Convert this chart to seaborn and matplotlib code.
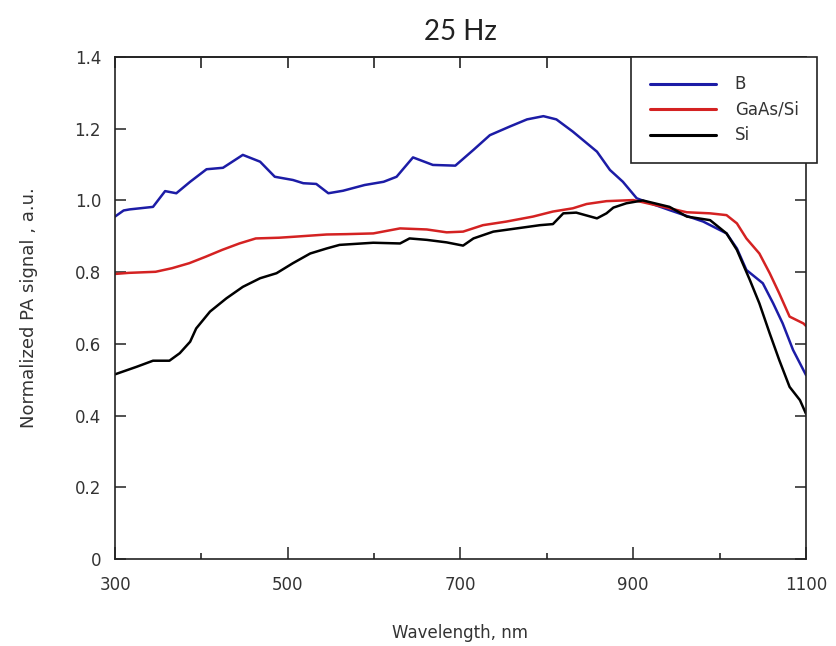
import numpy as np
import pandas as pd
import matplotlib
matplotlib.use("Agg")
import matplotlib.pyplot as plt
from matplotlib.ticker import MultipleLocator, FixedLocator
import seaborn as sns

# ---- data ----
series_names = ["B", "GaAs/Si", "Si"]
series_colors = ["#1c1ca6", "#d42222", "#000000"]

b_wl = [300, 310, 317, 344, 358, 371, 387, 406, 425, 448, 468, 485, 506, 518, 533,
        547, 564, 589, 611, 626, 645, 668, 694, 715, 734, 757, 777, 796, 811,
        830, 842, 858, 873, 888, 904, 915, 942, 981, 1008, 1020, 1031, 1050,
        1062, 1073, 1085, 1100]
b_val = [0.955, 0.972, 0.975, 0.982, 1.026, 1.020, 1.052, 1.087, 1.091, 1.127, 1.108,
         1.066, 1.057, 1.048, 1.046, 1.020, 1.027, 1.043, 1.052, 1.066, 1.120,
         1.099, 1.097, 1.141, 1.182, 1.206, 1.226, 1.235, 1.226, 1.192, 1.168,
         1.136, 1.085, 1.052, 1.006, 0.996, 0.973, 0.941, 0.908, 0.866, 0.806,
         0.769, 0.713, 0.657, 0.583, 0.513]

g_wl = [300, 316, 347, 366, 386, 405, 424, 444, 463, 490, 509, 545, 568, 599,
        630, 661, 684, 703, 726, 753, 784, 807, 830, 846, 869, 900, 942, 962,
        989, 1008, 1020, 1031, 1046, 1058, 1069, 1081, 1097, 1100]
g_val = [0.795, 0.798, 0.801, 0.811, 0.825, 0.843, 0.862, 0.880, 0.894, 0.896,
         0.899, 0.905, 0.906, 0.908, 0.922, 0.919, 0.911, 0.913, 0.931, 0.941,
         0.955, 0.969, 0.978, 0.990, 0.998, 1.001, 0.978, 0.967, 0.964, 0.959,
         0.936, 0.894, 0.852, 0.797, 0.741, 0.676, 0.657, 0.650]

s_wl = [300, 325, 344, 363, 375, 387, 394, 410, 429, 448, 468, 487, 506, 526,
        545, 560, 599, 630, 641, 661, 684, 703, 715, 738, 765, 792, 807, 819,
        834, 858, 869, 877, 892, 911, 942, 962, 989, 1008, 1020, 1035, 1046,
        1058, 1069, 1081, 1093, 1100]
s_val = [0.515, 0.536, 0.553, 0.553, 0.574, 0.606, 0.643, 0.690, 0.727, 0.759,
         0.783, 0.797, 0.825, 0.852, 0.866, 0.876, 0.882, 0.880, 0.894, 0.890,
         0.883, 0.874, 0.894, 0.913, 0.922, 0.931, 0.934, 0.964, 0.966, 0.950,
         0.964, 0.980, 0.992, 1.000, 0.982, 0.955, 0.945, 0.908, 0.862, 0.778,
         0.713, 0.629, 0.555, 0.480, 0.443, 0.405]

x_ticks = [300, 500, 700, 900, 1100]
y_ticks = [0, 0.2, 0.4, 0.6, 0.8, 1.0, 1.2, 1.4]
y_tick_labels = ["0", "0.2", "0.4", "0.6", "0.8", "1.0", "1.2", "1.4"]

title_text = "25 Hz"
x_label = "Wavelength, nm"
y_label = "Normalized PA signal , a.u."

df = pd.concat([
    pd.DataFrame({"wl": b_wl, "val": b_val, "sample": series_names[0]}),
    pd.DataFrame({"wl": g_wl, "val": g_val, "sample": series_names[1]}),
    pd.DataFrame({"wl": s_wl, "val": s_val, "sample": series_names[2]}),
], ignore_index=True)

sns.set_theme(style="ticks")
plt.rcParams["font.family"] = ["DejaVu Sans"]

fig = plt.figure(figsize=(8.37, 6.46), dpi=100)
ax = fig.add_axes([115 / 837, 1 - 559 / 646, (806 - 115) / 837, (559 - 57) / 646])

sns.lineplot(data=df, x="wl", y="val", hue="sample", hue_order=series_names,
             palette=dict(zip(series_names, series_colors)), estimator=None,
             sort=False, linewidth=1.8, ax=ax, legend=True)

ax.set_xlim(300, 1100)
ax.set_ylim(0, 1.4)
ax.xaxis.set_major_locator(FixedLocator(x_ticks))
ax.xaxis.set_minor_locator(MultipleLocator(100))
ax.set_yticks(y_ticks)
ax.set_yticklabels(y_tick_labels)

for sp in ax.spines.values():
    sp.set_visible(True)
    sp.set_linewidth(1.2)
    sp.set_color("#222222")

ax.tick_params(axis="x", which="major", direction="in", length=9, width=1.2,
               bottom=True, top=False, labelsize=12, colors="#333333", pad=12)
ax.tick_params(axis="x", which="minor", direction="in", length=4.5, width=1.2,
               bottom=True, top=False)
ax.tick_params(axis="y", which="major", direction="in", length=8, width=1.2,
               left=True, right=True, labelsize=12, colors="#333333", pad=10)

sec = ax.secondary_xaxis("top")
sec.xaxis.set_major_locator(MultipleLocator(100))
sec.tick_params(direction="in", length=8, width=1.2, labeltop=False, colors="#222222")
sec.spines["top"].set_linewidth(1.2)

ax.set_xlabel(x_label, fontsize=12, color="#333333", labelpad=22)
ax.set_ylabel(y_label, fontsize=13, color="#333333", labelpad=26)
ax.set_title(title_text, fontsize=20, family=["Lato", "DejaVu Sans"],
             color="#222222", pad=12)

handles, labels = ax.get_legend_handles_labels()
ax.get_legend().remove()
leg = fig.legend(handles, labels, loc="upper right",
                 bbox_to_anchor=(817 / 837, 1 - 57 / 646),
                 bbox_transform=fig.transFigure, fontsize=12, frameon=True,
                 fancybox=False, edgecolor="#222222", facecolor="white",
                 framealpha=1.0, handlelength=4.0, handletextpad=1.1,
                 labelspacing=0.45, borderpad=1.1, borderaxespad=0)
leg.set_zorder(20)
leg.get_frame().set_linewidth(1.2)
for line in leg.get_lines():
    line.set_linewidth(2.2)
for t in leg.get_texts():
    t.set_color("#333333")

fig.savefig("out.png", dpi=100)
